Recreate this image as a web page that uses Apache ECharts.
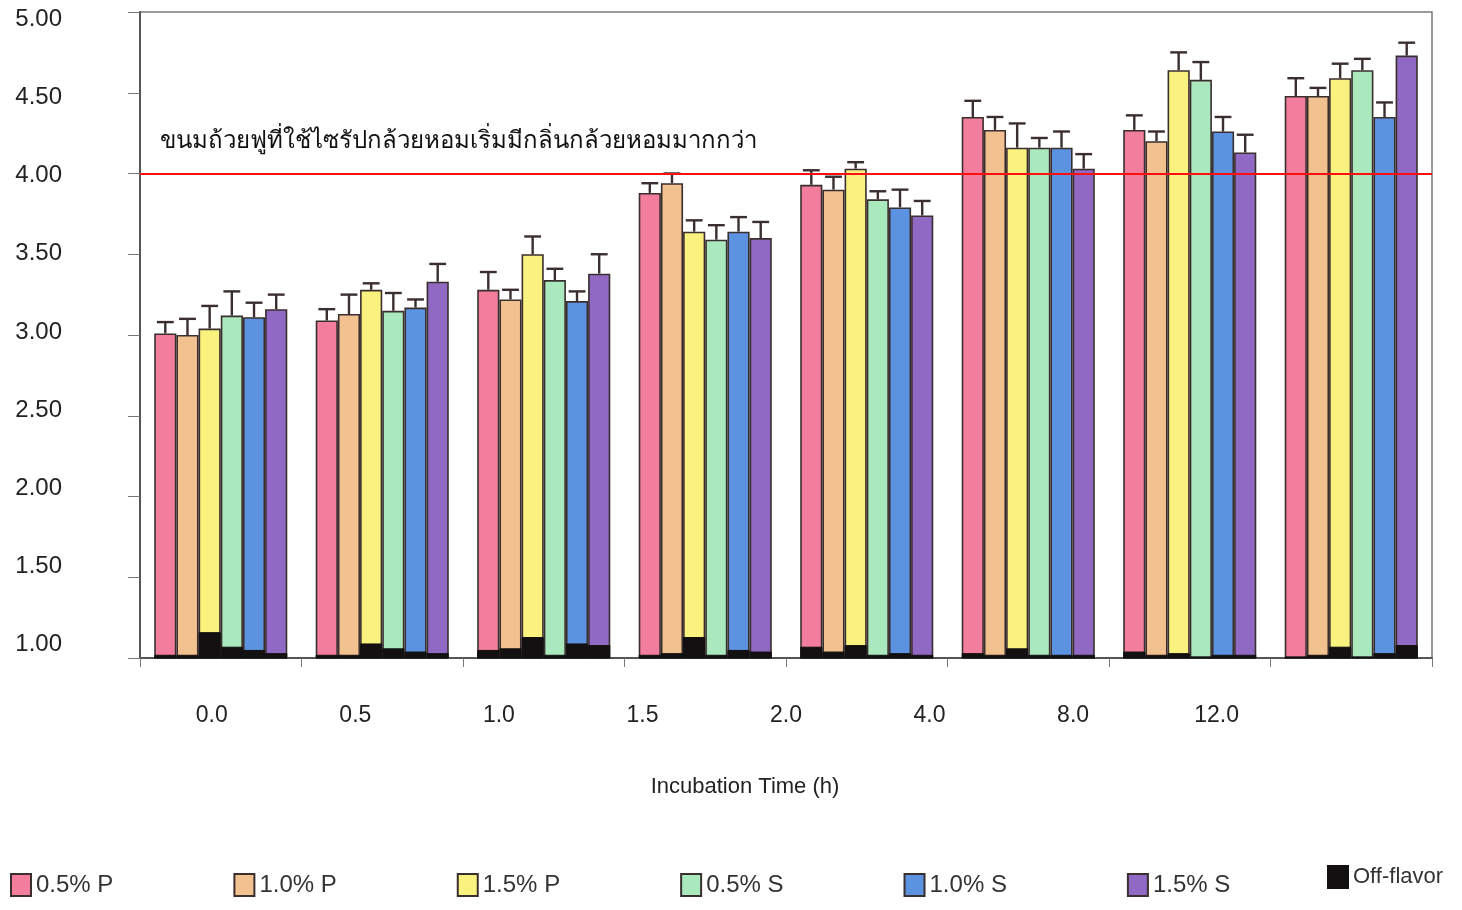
<!DOCTYPE html>
<html>
<head>
<meta charset="utf-8">
<title>Incubation Time</title>
<script src="https://cdn.jsdelivr.net/npm/echarts@6/dist/echarts.min.js"></script>
<style>
  html, body { margin: 0; padding: 0; background: #ffffff; }
  #main { width: 1462px; height: 910px; }
</style>
</head>
<body>
<div id="main"></div>
<script>
// categories (incubation time, h)
var times = ['0.0', '0.5', '1.0', '1.5', '2.0', '4.0', '8.0', '12.0'];
// tick labels as printed under the axis (9 slots, last one empty)
var tickLabels = ['0.0', '0.5', '1.0', '1.5', '2.0', '4.0', '8.0', '12.0', ''];
var yTicks = [1, 1.5, 2, 2.5, 3, 3.5, 4, 4.5, 5];

var names = ['0.5% P', '1.0% P', '1.5% P', '0.5% S', '1.0% S', '1.5% S'];
var colors = ['#f27d9c', '#f1c18f', '#faf27e', '#a9e9bd', '#5b93e0', '#9069c4'];

// mean scores
var p05 = [3.01, 3.09, 3.28, 3.88, 3.93, 4.35, 4.27, 4.48];
var p10 = [3.00, 3.13, 3.22, 3.94, 3.90, 4.27, 4.20, 4.48];
var p15 = [3.04, 3.28, 3.50, 3.64, 4.03, 4.16, 4.64, 4.59];
var s05 = [3.12, 3.15, 3.34, 3.59, 3.84, 4.16, 4.58, 4.64];
var s10 = [3.11, 3.17, 3.21, 3.64, 3.79, 4.16, 4.26, 4.35];
var s15 = [3.16, 3.33, 3.38, 3.60, 3.74, 4.03, 4.13, 4.73];

// standard deviation (upper error bar)
var p05Err = [0.07, 0.07, 0.11, 0.06, 0.09, 0.10, 0.09, 0.11];
var p10Err = [0.10, 0.12, 0.06, 0.06, 0.08, 0.08, 0.06, 0.05];
var p15Err = [0.14, 0.04, 0.11, 0.07, 0.04, 0.15, 0.11, 0.09];
var s05Err = [0.15, 0.11, 0.07, 0.09, 0.05, 0.06, 0.11, 0.07];
var s10Err = [0.09, 0.05, 0.06, 0.09, 0.11, 0.10, 0.09, 0.09];
var s15Err = [0.09, 0.11, 0.12, 0.10, 0.09, 0.09, 0.11, 0.08];

// off-flavor score
var p05Off = [1.02, 1.02, 1.05, 1.02, 1.07, 1.03, 1.04, 1.01];
var p10Off = [1.02, 1.02, 1.06, 1.03, 1.04, 1.02, 1.02, 1.02];
var p15Off = [1.16, 1.09, 1.13, 1.13, 1.08, 1.06, 1.03, 1.07];
var s05Off = [1.07, 1.06, 1.02, 1.02, 1.02, 1.02, 1.01, 1.01];
var s10Off = [1.05, 1.04, 1.09, 1.05, 1.03, 1.02, 1.02, 1.03];
var s15Off = [1.03, 1.03, 1.08, 1.04, 1.02, 1.02, 1.02, 1.08];

var threshold = 4.0;
var thresholdText = 'ขนมถ้วยฟูที่ใช้ไซรัปกล้วยหอมเริ่มมีกลิ่นกล้วยหอมมากกว่า';

var means = [p05, p10, p15, s05, s10, s15];
var errs = [p05Err, p10Err, p15Err, s05Err, s10Err, s15Err];
var offs = [p05Off, p10Off, p15Off, s05Off, s10Off, s15Off];

var catGap = '17.6%';
var edge = '#3a2e2e';
var font = "'Liberation Sans', Arial, sans-serif";

var dom = document.getElementById('main');
var chart = echarts.init(dom, null, { renderer: 'canvas' });

var series = [];
for (let i = 0; i < 6; i++) {
  series.push({
    name: names[i],
    type: 'bar',
    xAxisIndex: 0,
    barGap: '0%',
    barCategoryGap: catGap,
    itemStyle: { color: colors[i], borderColor: edge, borderWidth: 1.6 },
    data: means[i],
    z: 2
  });
}
for (let i = 0; i < 6; i++) {
  series.push({
    name: 'Off-flavor',
    type: 'bar',
    xAxisIndex: 1,
    barGap: '0%',
    barCategoryGap: catGap,
    itemStyle: { color: '#121010', borderColor: '#121010', borderWidth: 1 },
    data: offs[i],
    z: 3
  });
}

// error bars
var errData = [];
for (let i = 0; i < 6; i++) {
  for (let c = 0; c < times.length; c++) {
    errData.push([c, i, means[i][c], errs[i][c]]);
  }
}
series.push({
  type: 'custom',
  xAxisIndex: 0,
  z: 4,
  silent: true,
  encode: { x: 0, y: 2 },
  data: errData,
  renderItem: function (params, api) {
    var c = api.value(0), i = api.value(1), v = api.value(2), e = api.value(3);
    var band = api.size([1, 0])[0];
    var bw = band * (1 - 0.176) / 6;
    var x = api.coord([c, v])[0] + (i - 2.5) * bw;
    var y0 = api.coord([c, v])[1];
    var y1 = api.coord([c, v + e])[1];
    var half = bw * 0.38;
    var st = { stroke: edge, lineWidth: 2.4 };
    return {
      type: 'group',
      children: [
        { type: 'line', shape: { x1: x, y1: y0, x2: x, y2: y1 }, style: st },
        { type: 'line', shape: { x1: x - half, y1: y1, x2: x + half, y2: y1 }, style: st }
      ]
    };
  }
});

// threshold line
series.push({
  type: 'line',
  xAxisIndex: 0,
  data: [],
  markLine: {
    silent: true,
    symbol: 'none',
    lineStyle: { color: '#ff1010', width: 2, type: 'solid' },
    label: {
      show: true,
      position: 'insideStartTop',
      formatter: thresholdText,
      color: '#111',
      fontSize: 24,
      fontFamily: font,
      distance: [20, 20]
    },
    data: [{ yAxis: threshold }]
  },
  z: 5
});

var legendText = { fontSize: 24, color: '#333', fontFamily: font };

var option = {
  backgroundColor: '#ffffff',
  animation: false,
  textStyle: { fontFamily: font },
  grid: {
    left: 140, right: 30, top: 12, bottom: 252,
    show: true, borderColor: '#7a7a7a', borderWidth: 1.5
  },
  legend: [
    {
      left: 5,
      top: 868,
      itemGap: 120,
      itemWidth: 20,
      itemHeight: 22,
      icon: 'rect',
      textStyle: legendText,
      data: names
    },
    {
      left: 1322,
      top: 860,
      itemWidth: 20,
      itemHeight: 22,
      icon: 'rect',
      textStyle: { fontSize: 22, color: '#333', fontFamily: font },
      data: ['Off-flavor']
    }
  ],
  xAxis: [
    {
      type: 'category',
      data: times,
      axisLine: { lineStyle: { color: '#555', width: 2 } },
      axisTick: { show: true, length: 9, interval: 0, lineStyle: { color: '#777' } },
      axisLabel: { show: false }
    },
    {
      type: 'category',
      data: times,
      show: false
    },
    {
      type: 'category',
      data: tickLabels,
      position: 'bottom',
      axisLine: { show: false },
      axisTick: { show: false },
      axisLabel: { fontSize: 23, color: '#222', margin: 46, interval: 0 },
      name: 'Incubation Time (h)',
      nameLocation: 'middle',
      nameGap: 118,
      nameTextStyle: { fontSize: 22, color: '#222', padding: [0, 82, 0, 0] }
    }
  ],
  yAxis: [
    {
      type: 'value',
      min: 1,
      max: 5,
      interval: 0.5,
      splitLine: { show: false },
      axisLine: { show: true, lineStyle: { color: '#555', width: 2 } },
      axisTick: { show: true, length: 12, lineStyle: { color: '#777' } },
      axisLabel: { show: false }
    },
    {
      // label scale as printed beside the axis
      type: 'value',
      position: 'left',
      min: 0.91,
      max: 5.05,
      splitLine: { show: false },
      axisLine: { show: false },
      axisTick: { show: false },
      axisLabel: {
        customValues: yTicks,
        fontSize: 24,
        color: '#222',
        margin: 78,
        formatter: function (v) { return v.toFixed(2); }
      }
    }
  ],
  series: series
};

chart.setOption(option);
window.addEventListener('resize', chart.resize);
</script>
</body>
</html>
